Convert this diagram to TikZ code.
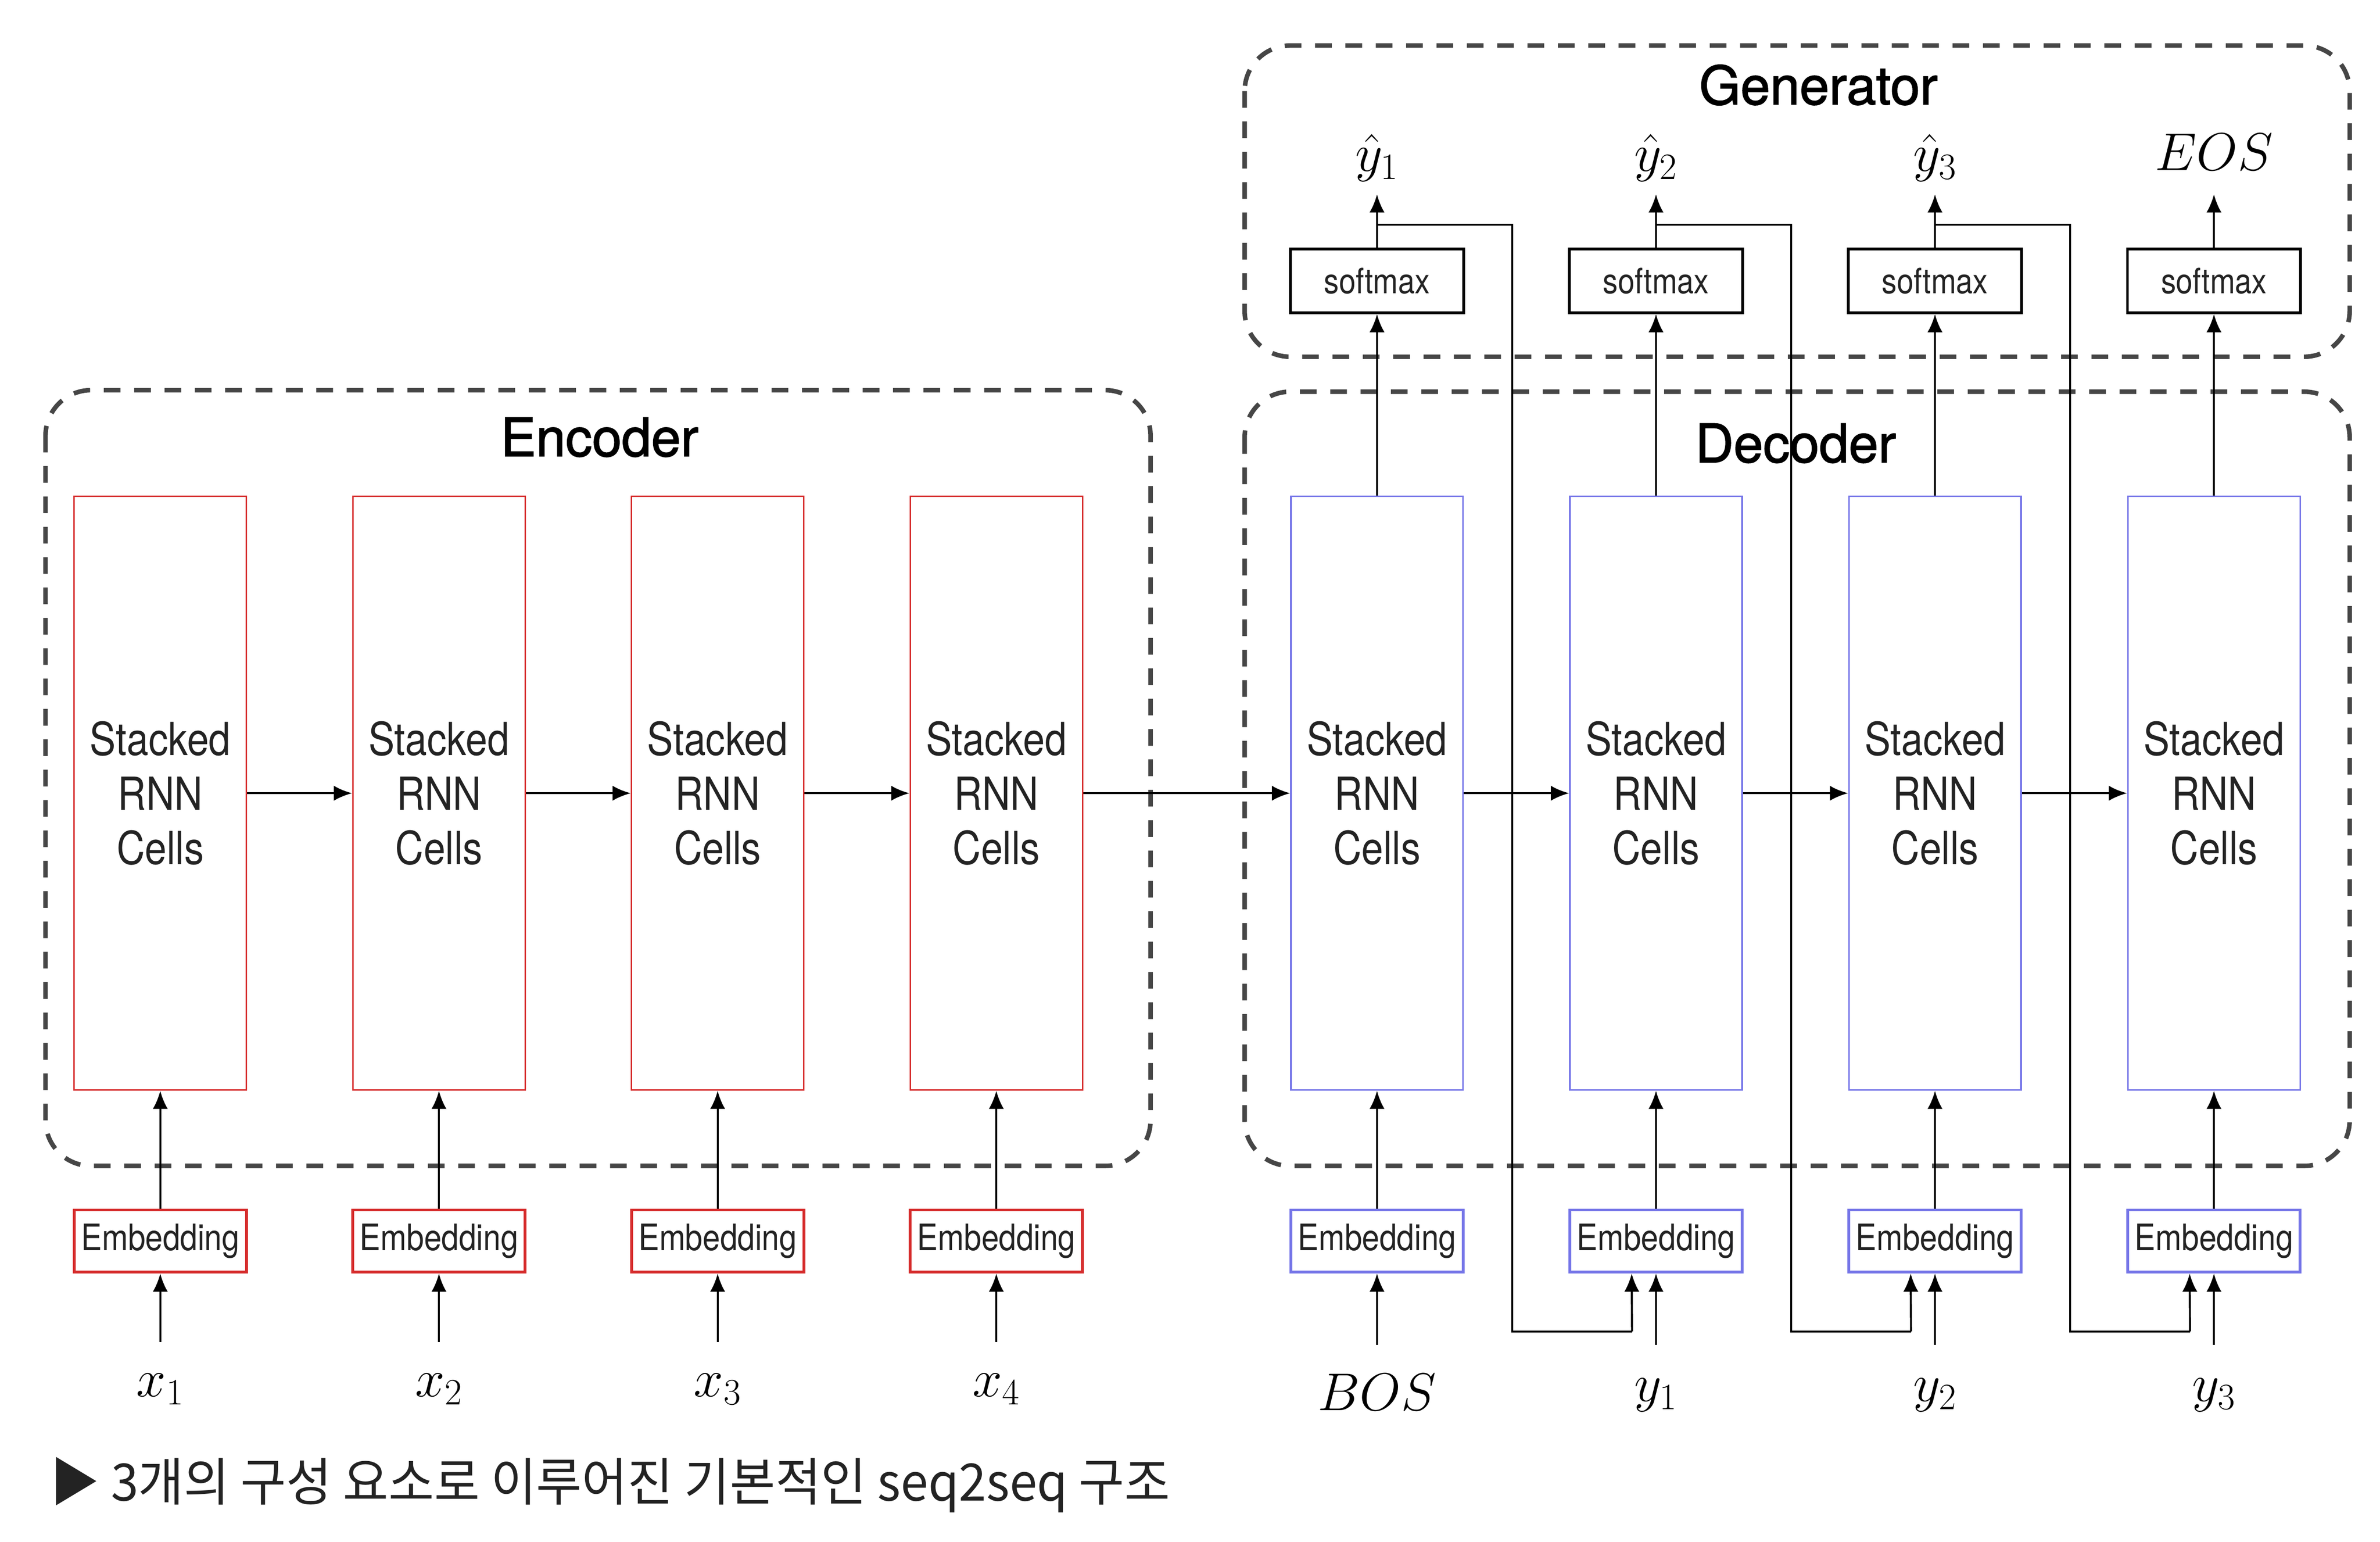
\RequirePackage{fix-cm}
\documentclass[tikz,border=0pt]{standalone}
\usepackage{fontspec}
\usetikzlibrary{arrows.meta}
\setmainfont{TeX Gyre Heros}
\newfontfamily\narrowsf[FakeStretch=0.86]{TeX Gyre Heros}
\newfontfamily\headsf[FakeBold=1.6]{TeX Gyre Heros}
\newfontfamily\krfont[FakeStretch=0.96]{Noto Sans CJK KR}
\definecolor{encred}{RGB}{214,45,45}
\definecolor{decblue}{RGB}{118,118,232}
\definecolor{dashgray}{RGB}{70,70,70}
\definecolor{txtgray}{RGB}{35,35,35}
\tikzset{
  rnnbox/.style={line width=1pt, minimum width=113.5pt, minimum height=391pt, align=center, inner sep=0pt,
    font=\narrowsf\fontsize{30}{36}\selectfont, text=txtgray},
  rnnenc/.style={rnnbox, draw=encred},
  rnndec/.style={rnnbox, draw=decblue},
  embbox/.style={line width=1.8pt, minimum width=113.5pt, minimum height=41pt, inner sep=0pt,
    font=\narrowsf\fontsize{24}{28}\selectfont, text=txtgray},
  embenc/.style={embbox, draw=encred},
  embdec/.style={embbox, draw=decblue},
  smxbox/.style={draw=black, line width=1.8pt, minimum width=114pt, minimum height=42pt, inner sep=0pt,
    font=\narrowsf\fontsize{23}{28}\selectfont, text=txtgray},
  grpbox/.style={draw=dashgray, line width=3pt, dash pattern=on 11pt off 9pt, rounded corners=30pt},
  grptitle/.style={font=\headsf\fontsize{35}{40}\selectfont},
  conn/.style={line width=1.3pt, -{Latex[length=12pt,width=10pt]}},
  wire/.style={line width=1.3pt},
  mlbl/.style={font=\fontsize{35}{40}\selectfont, inner sep=0pt},
}
\begin{document}
\begin{tikzpicture}[x=1pt,y=-1pt]
\useasboundingbox (0,0) rectangle (1568,1015.5);
% group boxes
\draw[grpbox] (30,257) rectangle (758,768);
\draw[grpbox] (820,30) rectangle (1548,235);
\draw[grpbox] (820,258) rectangle (1548,768);
\node[grptitle] (enct) at (395,288) {Encoder};
\node[grptitle] (gent) at (1198,56) {Generator};
\node[grptitle] (dect) at (1183,292) {Decoder};
% encoder
\foreach \i/\x in {1/105.6,2/289.2,3/472.8,4/656.4}{
  \node[rnnenc] (e\i) at (\x,522.5) {Stacked\\RNN\\Cells};
  \node[embenc] (ee\i) at (\x,817.5) {Embedding};
  \node[mlbl] (xl\i) at (\x,915) {$x_{\i}$};
  \coordinate (xs\i) at (\x,884);
  \draw[conn] (xs\i) -- (ee\i.south);
  \draw[conn] (ee\i.north) -- (e\i.south);
}
% decoder
\foreach \i/\x in {1/907.2,2/1091,3/1274.8,4/1458.6}{
  \node[rnndec] (d\i) at (\x,522.5) {Stacked\\RNN\\Cells};
  \node[embdec] (de\i) at (\x,817.5) {Embedding};
  \node[smxbox] (s\i) at (\x,185) {softmax};
  \coordinate (yt\i) at (\x,128);
  \coordinate (ds\i) at (\x,886);
  \draw[conn] (ds\i) -- (de\i.south);
  \draw[conn] (de\i.north) -- (d\i.south);
  \draw[conn] (d\i.north) -- (s\i.south);
  \draw[conn] (s\i.north) -- (yt\i);
}
\node[mlbl] (bos) at (907.2,917) {$BOS$};
\node[mlbl] (yl1) at (1091,919) {$y_1$};
\node[mlbl] (yl2) at (1274.8,919) {$y_2$};
\node[mlbl] (yl3) at (1458.6,919) {$y_3$};
\node[mlbl] (yh1) at (907.2,104) {$\hat{y}_1$};
\node[mlbl] (yh2) at (1091,104) {$\hat{y}_2$};
\node[mlbl] (yh3) at (1274.8,104) {$\hat{y}_3$};
\node[mlbl] (eos) at (1458.6,100) {$EOS$};
% horizontal arrows
\draw[conn] (e1.east) -- (e2.west);
\draw[conn] (e2.east) -- (e3.west);
\draw[conn] (e3.east) -- (e4.west);
\draw[conn] (e4.east) -- (d1.west);
\draw[conn] (d1.east) -- (d2.west);
\draw[conn] (d2.east) -- (d3.west);
\draw[conn] (d3.east) -- (d4.west);
% feedback lines
\foreach \i/\j/\x in {1/2/907.2,2/3/1091,3/4/1274.8}{
  \coordinate (fa\i) at (\x,148);
  \coordinate (fb\i) at (\x+89,148);
  \coordinate (fc\i) at (\x+89,877);
  \coordinate (fd\i) at (\x+168,877);
  \draw[wire] (fa\i) -- (fb\i) -- (fc\i) -- (fd\i);
  \draw[conn] (fd\i) -- ([xshift=-16pt]de\j.south);
}
% caption
\node[anchor=west, inner sep=0pt, font=\krfont\fontsize{34}{40}\selectfont, text=txtgray] (cap) at (33,978)
  {▶ 3개의 구성 요소로 이루어진 기본적인 seq2seq 구조};
\end{tikzpicture}
\end{document}
